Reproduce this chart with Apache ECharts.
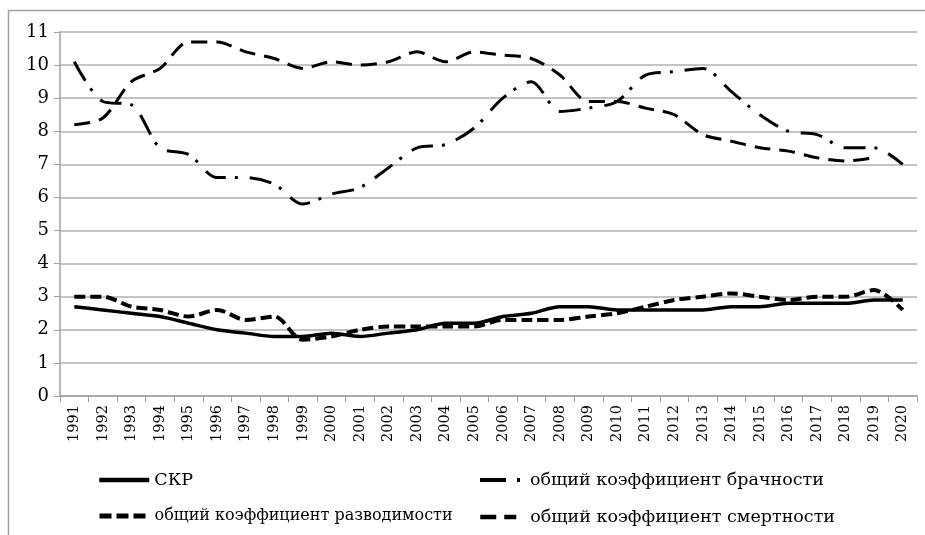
<!DOCTYPE html>
<html><head><meta charset="utf-8">
<script src="https://cdn.jsdelivr.net/npm/echarts@6/dist/echarts.min.js"></script>
<style>html,body{margin:0;padding:0;background:#fff}#c{width:925px;height:535px}</style>
</head><body><div id="c"></div>
<script>
var years = ['1991','1992','1993','1994','1995','1996','1997','1998','1999','2000','2001','2002','2003','2004','2005','2006','2007','2008','2009','2010','2011','2012','2013','2014','2015','2016','2017','2018','2019','2020'];
var skr = [2.7,2.6,2.5,2.4,2.2,2.0,1.9,1.8,1.8,1.9,1.8,1.9,2.0,2.2,2.2,2.4,2.5,2.7,2.7,2.6,2.6,2.6,2.6,2.7,2.7,2.8,2.8,2.8,2.9,2.9];
var marriage = [10.1,8.9,8.8,7.5,7.3,6.6,6.6,6.4,5.8,6.1,6.3,6.9,7.5,7.6,8.1,9.0,9.5,8.6,8.7,8.9,9.7,9.8,9.9,9.2,8.5,8.0,7.9,7.5,7.5,7.0];
var divorce = [3.0,3.0,2.7,2.6,2.4,2.6,2.3,2.4,1.7,1.8,2.0,2.1,2.1,2.1,2.1,2.3,2.3,2.3,2.4,2.5,2.7,2.9,3.0,3.1,3.0,2.9,3.0,3.0,3.2,2.6];
var mortality = [8.2,8.4,9.5,9.9,10.7,10.7,10.4,10.2,9.9,10.1,10.0,10.1,10.4,10.1,10.4,10.3,10.2,9.7,8.9,8.9,8.7,8.5,7.9,7.7,7.5,7.4,7.2,7.1,7.2,null];
var names = ['СКР','общий коэффициент брачности','общий коэффициент разводимости','общий коэффициент смертности'];
var yTicks = {min:0, max:11, interval:1};

var font = 'DejaVu Serif';
function lg(name, left, top, w, fs, ls){
  return {data:[name], left:left, top:top, itemWidth:w, itemHeight:20, itemGap:4,
    itemStyle:{opacity:0}, lineStyle:ls,
    textStyle:{fontFamily:font, fontSize:fs, color:'#000'}};
}
var chart = echarts.init(document.getElementById('c'), null, {renderer:'canvas'});
chart.setOption({
  animation:false,
  backgroundColor:'#fff',
  textStyle:{fontFamily:font},
  graphic:[{type:'rect', shape:{x:8.5,y:10.5,width:1000,height:600}, style:{fill:'none', stroke:'#a0a0a0', lineWidth:1.5}, silent:true}],
  grid:{left:60, right:8, top:32, bottom:139},
  legend:[
    lg(names[0],92,466,50,17.5,{width:4.5, type:'solid'}),
    lg(names[1],473,466,45,17.5,{width:4, type:[26,11,3,10]}),
    lg(names[2],92,503,50,16,{width:5, type:[12,5]}),
    lg(names[3],473,503,45,17.5,{width:4.5, type:[16,8,12,20]})],
  xAxis:{type:'category', data:years, boundaryGap:true,
    axisLine:{lineStyle:{color:'#a0a0a0', width:1.5}},
    axisTick:{show:true, length:6, interval:0, lineStyle:{color:'#a0a0a0'}},
    axisLabel:{rotate:90, interval:0, fontFamily:font, fontSize:14.5, color:'#000', margin:9}},
  yAxis:{type:'value', min:yTicks.min, max:yTicks.max, interval:yTicks.interval,
    axisLine:{show:true, lineStyle:{color:'#a0a0a0', width:1.5}},
    axisTick:{show:true, length:6, lineStyle:{color:'#a0a0a0'}},
    splitLine:{lineStyle:{color:'#b0b0b0', width:1.5}},
    axisLabel:{fontFamily:font, fontSize:18, color:'#000', margin:11}},
  series:[
    {name:names[0], type:'line', data:skr, symbol:'none', smooth:0.3, lineStyle:{color:'#000', width:3.5}, itemStyle:{color:'#000'}},
    {name:names[1], type:'line', data:marriage, symbol:'none', smooth:0.3, lineStyle:{color:'#000', width:3, type:[22,9,3,12]}, itemStyle:{color:'#000'}},
    {name:names[2], type:'line', data:divorce, symbol:'none', smooth:0.3, lineStyle:{color:'#000', width:4, type:[11,5]}, itemStyle:{color:'#000'}},
    {name:names[3], type:'line', data:mortality, symbol:'none', smooth:0.3, lineStyle:{color:'#000', width:3, type:[16,9]}, itemStyle:{color:'#000'}}
  ]
});
</script></body></html>
